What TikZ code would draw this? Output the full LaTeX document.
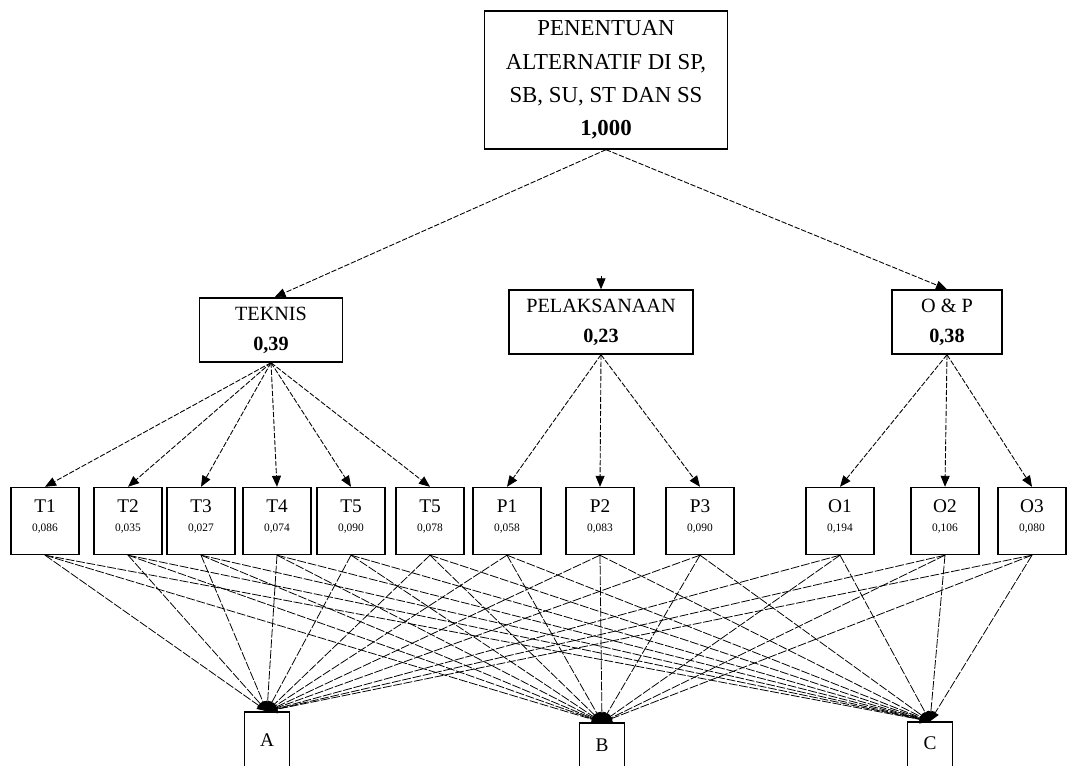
\documentclass[tikz,border=0pt]{standalone}
\usepackage{fontspec}
\setmainfont{Liberation Serif}
\usetikzlibrary{arrows.meta, positioning}
\newcommand{\wgt}[1]{\\[-1.2pt]{\fontsize{6.5}{7}\selectfont #1}\\[-5.4pt]\mbox{}}

\begin{document}
\begin{tikzpicture}[
    x=0.02cm, y=-0.02cm,
    box/.style   = {draw, line width=0.8pt, align=center, inner sep=0pt},
    goal/.style  = {box, minimum width=4.86cm, minimum height=2.76cm,
                    font=\fontsize{13}{19}\selectfont},
    crit/.style  = {box, minimum height=1.28cm, font=\fontsize{11.5}{17}\selectfont},
    sub/.style   = {box, minimum width=1.36cm, minimum height=1.34cm,
                    font=\fontsize{11}{12}\selectfont},
    alt/.style   = {box, minimum width=0.9cm, minimum height=1.32cm,
                    font=\fontsize{11}{12}\selectfont},
    link/.style  = {-{Triangle[length=2.2mm, width=1.8mm]}, line width=0.5pt,
                    dash pattern=on 3pt off 1pt},
    tie/.style   = {-{Triangle[length=2mm, width=1.6mm]}, line width=0.45pt,
                    dash pattern=on 5pt off 1pt},
]

\useasboundingbox (0,0) rectangle (1072,766);

% --- goal ---------------------------------------------------------------
\node[goal] (goal) at (606,80)
      {PENENTUAN\\ALTERNATIF DI SP,\\SB, SU, ST DAN SS\\\textbf{1,000}};

% --- criteria -----------------------------------------------------------
\node[crit, minimum width=2.86cm] (teknis) at (271,330) {TEKNIS\\\textbf{0,39}};
\node[crit, minimum width=3.68cm] (lak)    at (601,322) {PELAKSANAAN\\\textbf{0,23}};
\node[crit, minimum width=2.2cm]  (op)     at (947,322) {O \& P\\\textbf{0,38}};

\draw[link] (goal.south) -- ([xshift=2pt]teknis.north);
\draw[link] (goal.south) -- (op.north);
\coordinate (lakin) at (601,276);
\draw[link] (lakin) -- (lak.north);

% --- sub-criteria -------------------------------------------------------
\node[sub] (t1) at (45,521)   {T1\wgt{0,086}};
\node[sub] (t2) at (128,521)  {T2\wgt{0,035}};
\node[sub] (t3) at (201,521)  {T3\wgt{0,027}};
\node[sub] (t4) at (277,521)  {T4\wgt{0,074}};
\node[sub] (t5) at (351,521)  {T5\wgt{0,090}};
\node[sub] (t6) at (430,521)  {T5\wgt{0,078}};
\node[sub] (p1) at (507,521)  {P1\wgt{0,058}};
\node[sub] (p2) at (600,521)  {P2\wgt{0,083}};
\node[sub] (p3) at (700,521)  {P3\wgt{0,090}};
\node[sub] (o1) at (840,521)  {O1\wgt{0,194}};
\node[sub] (o2) at (945,521)  {O2\wgt{0,106}};
\node[sub] (o3) at (1032,521) {O3\wgt{0,080}};

\foreach \s in {t1,t2,t3,t4,t5,t6}
  \draw[link] (teknis.south) -- (\s.north);
\foreach \s in {p1,p2,p3}
  \draw[link] (lak.south) -- (\s.north);
\foreach \s in {o1,o2,o3}
  \draw[link] (op.south) -- (\s.north);

% --- alternatives -------------------------------------------------------
\node[alt] (A) at (267,745) {A\\[-6pt]\mbox{}};
\node[alt] (B) at (602,756) {B\\[0.5pt]\mbox{}};
\node[alt] (C) at (930,755) {C\\[1pt]\mbox{}};

\foreach \s in {t1,t2,t3,t4,t5,t6,p1,p2,p3,o1,o2,o3}
  \foreach \a in {A,B,C}
    \draw[tie] (\s.south) -- (\a.north);

\end{tikzpicture}
\end{document}
